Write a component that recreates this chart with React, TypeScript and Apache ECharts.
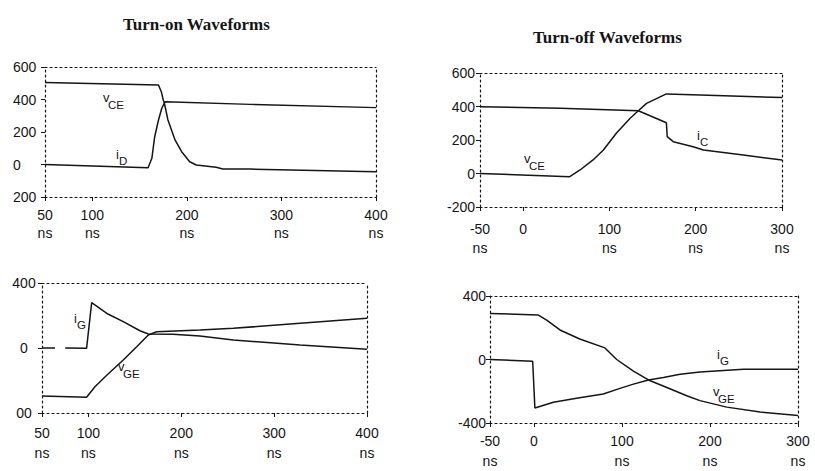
import React, { useEffect, useRef } from "react";
import * as echarts from "echarts";

// ---- Turn-on (top-left): vCE and iD ----
const onXTicks = [50, 100, 200, 300, 400];
const onTopVce = [[50, 505], [170, 489], [173, 448], [175, 397], [176, 383], [180, 274], [187.5, 151], [194.5, 79], [203, 17], [210, -3], [231, -17], [238, -28], [267, -28], [400, -44]];
const onTopId = [[50, 0], [159, -20], [163, 38], [166, 171], [170, 274], [173.5, 346], [177, 386], [267, 370], [400, 350]];

// ---- Turn-off (top-right): iC and vCE ----
const offXTicks = [-50, 0, 100, 200, 300];
const offTopIc = [[-50, 399], [43, 389], [133.5, 375], [166, 303], [167, 220], [174, 190], [197, 160], [209, 140], [255, 110], [300, 81]];
const offTopVce = [[-50, 0], [54, -19], [66, 21], [81, 81], [93, 140], [108, 240], [124, 330], [133.5, 375], [143, 419], [166, 475], [205, 469], [300, 453]];

// ---- Turn-on (bottom-left): iG and vGE ----
const onBotIg = [[50, 0], [64, 0], [70, null], [75, 0], [98, -2], [103.5, 279], [121, 209], [137.5, 162], [155.5, 106], [164.5, 86], [191, 84], [220, 74], [256, 49], [328, 18], [400, -8]];
const onBotVge = [[50, -295], [98, -303], [107, -238], [120, -166], [137.5, -74], [152, 8], [164.5, 80], [173.5, 100], [220, 111], [256, 121], [328, 152], [400, 183]];

// ---- Turn-off (bottom-right): vGE and iG ----
const offBotVge = [[-50, 290], [5, 280], [14.4, 248], [29.5, 186], [52, 129], [80.6, 73], [94, 0], [113, -73], [130, -129], [151, -176], [173.5, -228], [188.6, -259], [219, -300], [257, -331], [300, -352]];
const offBotIg = [[-50, 0], [-1.5, -11], [1, -306], [22, -269], [50, -242], [78.7, -217], [97.7, -182], [113, -155], [130, -129], [147, -114], [166, -93], [188.6, -79], [238, -62], [300, -62]];

const titles = ["Turn-on Waveforms", "Turn-off Waveforms"];

const INK = "#151515";
const SANS = "Liberation Sans, Arial, sans-serif";
const dotted = { color: INK, width: 1.2, type: [2, 3] as number[] };

export default function App() {
  const ref = useRef<HTMLDivElement>(null);
  useEffect(() => {
    if (!ref.current) return;
    const chart = echarts.init(ref.current, undefined, { renderer: "svg" });

    const grids = [
      { left: 45, top: 67, width: 331, height: 130 },
      { left: 480, top: 73, width: 302, height: 134 },
      { left: 42, top: 283, width: 325, height: 130 },
      { left: 490, top: 296, width: 308, height: 129 },
    ];

    const xCfg = [
      { min: 50, max: 400, ticks: onXTicks, fmt: (v: number) => v + "\nns", margin: 9, lh: 18 },
      { min: -50, max: 300, ticks: offXTicks, fmt: (v: number) => (v === 0 ? "0" : v + "\nns"), margin: 12, lh: 19 },
      { min: 50, max: 400, ticks: onXTicks, fmt: (v: number) => v + "\nns", margin: 10, lh: 20 },
      { min: -50, max: 300, ticks: offXTicks, fmt: (v: number) => (v === 0 ? "0" : v + "\nns"), margin: 8, lh: 20 },
    ];
    const yCfg = [
      { min: -200, max: 600, interval: 200, fmt: (v: number) => (v === -200 ? "200" : String(v)), align: "left", margin: 32 },
      { min: -200, max: 600, interval: 200, fmt: (v: number) => String(v), align: "right", margin: 5 },
      { min: -400, max: 400, interval: 400, fmt: (v: number) => (v === -400 ? "00" : String(v)), align: "center", margin: 18 },
      { min: -400, max: 400, interval: 400, fmt: (v: number) => String(v), align: "right", margin: 4 },
    ];

    const xAxis: any[] = [];
    const yAxis: any[] = [];
    grids.forEach((_, i) => {
      const c = xCfg[i];
      xAxis.push({
        type: "value", gridIndex: i, min: c.min, max: c.max, position: "bottom",
        axisLine: { show: true, onZero: false, lineStyle: dotted },
        axisTick: { show: true, customValues: c.ticks, length: 4, lineStyle: { color: INK, width: 1 } },
        axisLabel: { customValues: c.ticks, formatter: c.fmt, margin: c.margin, lineHeight: c.lh, fontSize: 14, color: INK, fontFamily: SANS },
        splitLine: { show: false },
      });
      xAxis.push({
        type: "value", gridIndex: i, min: c.min, max: c.max, position: "top",
        axisLine: { show: true, onZero: false, lineStyle: dotted },
        axisTick: { show: false }, axisLabel: { show: false }, splitLine: { show: false },
      });
      const y = yCfg[i];
      yAxis.push({
        type: "value", gridIndex: i, min: y.min, max: y.max, interval: y.interval, position: "left",
        axisLine: { show: true, onZero: false, lineStyle: dotted },
        axisTick: { show: true, length: 4, lineStyle: { color: INK, width: 1 } },
        axisLabel: { formatter: y.fmt, align: y.align, margin: y.margin, fontSize: 14, color: INK, fontFamily: SANS },
        splitLine: { show: false },
      });
      yAxis.push({
        type: "value", gridIndex: i, min: y.min, max: y.max, interval: y.interval, position: "right",
        axisLine: { show: true, onZero: false, lineStyle: dotted },
        axisTick: { show: false }, axisLabel: { show: false }, splitLine: { show: false },
      });
    });

    const line = (name: string, data: any[], i: number) => ({
      name, type: "line", data, xAxisIndex: 2 * i, yAxisIndex: 2 * i,
      showSymbol: false, symbol: "none", connectNulls: false,
      lineStyle: { color: INK, width: 1.5 }, z: 5,
    });

    const series = [
      line("vCE", onTopVce, 0), line("iD", onTopId, 0),
      line("iC", offTopIc, 1), line("vCE", offTopVce, 1),
      line("iG", onBotIg, 2), line("vGE", onBotVge, 2),
      line("vGE", offBotVge, 3), line("iG", offBotIg, 3),
    ];

    const lab = (x: number, y: number, main: string, sub: string) => ({
      type: "group",
      children: [
        { type: "text", x, y, style: { text: main, fontSize: 13, fill: INK, fontFamily: SANS, verticalAlign: "middle" } },
        { type: "text", x: x + (main === "v" ? 5 : 3), y: y + (main === "v" ? 8 : 7), style: { text: sub, fontSize: 11.5, fill: INK, fontFamily: SANS, verticalAlign: "middle" } },
      ],
    });

    chart.setOption({
      animation: false,
      backgroundColor: "#fff",
      title: [
        { text: titles[0], left: 118, top: 11, textStyle: { fontFamily: "Liberation Serif, Times New Roman, serif", fontWeight: "bold", fontSize: 17, color: INK } },
        { text: titles[1], left: 528, top: 24, textStyle: { fontFamily: "Liberation Serif, Times New Roman, serif", fontWeight: "bold", fontSize: 17, color: INK } },
      ],
      grid: grids,
      xAxis, yAxis, series,
      graphic: [
        lab(103, 97, "v", "CE"), lab(116, 154, "i", "D"),
        lab(524, 158, "v", "CE"), lab(697, 135, "i", "C"),
        lab(74, 318, "i", "G"), lab(118, 366, "v", "GE"),
        lab(717, 354, "i", "G"), lab(713, 391, "v", "GE"),
      ],
    });
    return () => chart.dispose();
  }, []);
  return <div ref={ref} style={{ position: "fixed", left: 0, top: 0, width: 815, height: 471, background: "#fff" }} />;
}
